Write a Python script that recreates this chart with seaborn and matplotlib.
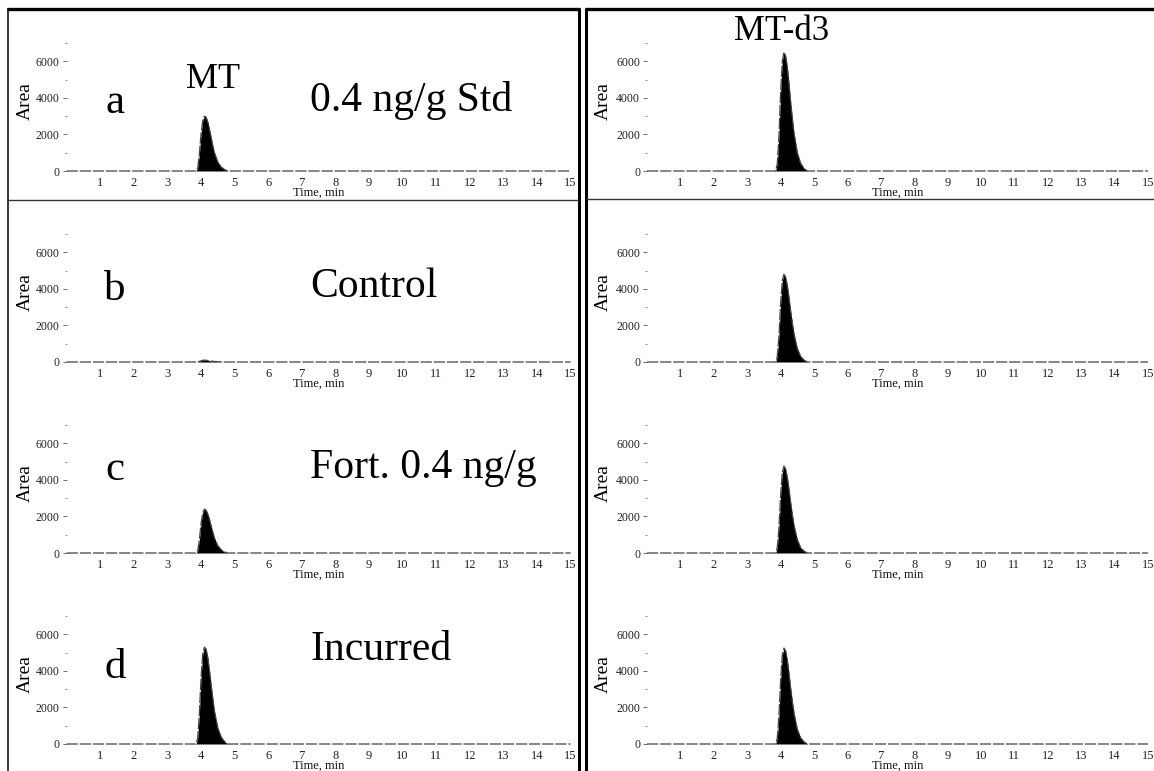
import matplotlib
matplotlib.use("Agg")
import matplotlib.pyplot as plt
import seaborn as sns
import pandas as pd
from matplotlib.lines import Line2D

# Retention time grid (min) for all traces
peak_t = [0.0, 3.85, 3.9, 3.95, 4.0, 4.05, 4.1, 4.15, 4.2, 4.25, 4.3, 4.35,
          4.4, 4.5, 4.6, 4.7, 4.8, 15.0]

# MT traces (left column), area counts
mt_a = [0, 0, 150, 900, 2000, 2750, 3000, 2950, 2700, 2300, 1850, 1400,
        1000, 500, 220, 80, 0, 0]
mt_b = [0, 0, 5, 30, 70, 95, 100, 95, 85, 70, 55, 40, 30, 15, 5, 0, 0, 0]
mt_c = [0, 0, 120, 700, 1600, 2200, 2400, 2350, 2150, 1850, 1500, 1150,
        820, 400, 180, 60, 0, 0]
mt_d = [0, 0, 300, 1600, 3600, 4900, 5300, 5200, 4750, 4050, 3250, 2500,
        1800, 880, 380, 130, 0, 0]

# MT-d3 traces (right column)
d3_a = [0, 0, 400, 1900, 4300, 6000, 6500, 6300, 5700, 4800, 3800, 2900,
        2100, 1000, 420, 150, 0, 0]
d3_b = [0, 0, 300, 1400, 3200, 4450, 4800, 4650, 4200, 3550, 2800, 2150,
        1550, 740, 310, 110, 0, 0]
d3_c = [0, 0, 290, 1380, 3150, 4400, 4750, 4600, 4150, 3500, 2780, 2120,
        1530, 730, 300, 110, 0, 0]
d3_d = [0, 0, 320, 1520, 3480, 4860, 5250, 5100, 4600, 3880, 3070, 2350,
        1700, 800, 340, 120, 0, 0]

panel_letters = ["a", "b", "c", "d"]
sample_labels = ["0.4 ng/g Std", "Control", "Fort. 0.4 ng/g", "Incurred"]
x_ticks = list(range(1, 16))
y_major = [0, 2000, 4000, 6000]
y_minor = [1000, 3000, 5000, 7000]

left_traces = [mt_a, mt_b, mt_c, mt_d]
right_traces = [d3_a, d3_b, d3_c, d3_d]

W, H = 1154, 771
sns.set_theme(style="white")
plt.rcParams["font.family"] = ["Liberation Serif", "DejaVu Serif"]
plt.rcParams["text.color"] = "black"

fig = plt.figure(figsize=(W / 100, H / 100), dpi=100)
fig.patch.set_facecolor("white")


def px(x, y):
    return x / W, 1 - y / H


def draw_panel(left_px, width_px, base_px, values):
    x0, y0 = px(left_px, base_px)
    ax = fig.add_axes([x0, y0, width_px / W, 128 / H])
    df = pd.DataFrame({"time": peak_t, "area": values})
    ax.fill_between(df["time"], 0, df["area"], color="black", lw=0)
    sns.lineplot(data=df, x="time", y="area", ax=ax, color="#444444",
                 lw=0.9, clip_on=False)
    ax.lines[-1].set_dashes((9, 1.5))
    ax.set_xlim(0, 15)
    ax.set_ylim(0, 7000)
    for s in ax.spines.values():
        s.set_visible(False)
    ax.set_facecolor("none")
    ax.set_xticks(x_ticks)
    ax.set_xticklabels([str(t) for t in x_ticks])
    ax.set_yticks(y_major)
    ax.set_yticks(y_minor, minor=True)
    ax.tick_params(axis="x", length=0, pad=4, labelsize=9, colors="#222222")
    ax.tick_params(axis="y", which="major", left=True, length=3, width=0.6,
                   pad=2, labelsize=8.5, colors="#555555", labelcolor="#222222")
    ax.tick_params(axis="y", which="minor", left=True, length=1.5, width=0.6,
                   colors="#777777")
    ax.set_xlabel("Time, min", fontsize=9, labelpad=-1, color="#111111")
    ax.set_ylabel("")
    return ax


bases = [171, 362, 553, 744]
for i in range(4):
    draw_panel(66.6, 504, bases[i], left_traces[i])
    draw_panel(647, 501, bases[i], right_traces[i])
    # "Area" labels
    fig.text(*px(25, bases[i] - 70), "Area", rotation=90, fontsize=14,
             ha="center", va="center")
    fig.text(*px(603, bases[i] - 70), "Area", rotation=90, fontsize=14,
             ha="center", va="center")

letter_y = [103, 290, 470, 668]
label_y = [100, 287, 468, 650]
for i in range(4):
    fig.text(*px(115, letter_y[i]), panel_letters[i], fontsize=31,
             ha="center", va="center")
    fig.text(*px(310, label_y[i]), sample_labels[i], fontsize=30,
             ha="left", va="center")

fig.text(*px(213, 80), "MT", fontsize=26, ha="center", va="center")
fig.text(*px(782, 32), "MT-d3", fontsize=25, ha="center", va="center")


# frame lines around the two columns
def fline(x1, y1, x2, y2, lw, color="black"):
    a, b = px(x1, y1)
    c, d = px(x2, y2)
    fig.add_artist(Line2D([a, c], [b, d], lw=lw, color=color,
                          solid_capstyle="butt"))


fline(7, 9, 580, 9, 2.4)
fline(585, 9, 1154, 9, 2.4)
fline(8, 8, 8, 771, 1.1)
fline(579, 8, 579, 771, 2.2)
fline(586, 8, 586, 771, 2.2)
fline(8, 200, 579, 200, 1.0, "#333333")
fline(586, 199, 1154, 199, 1.0, "#333333")

fig.savefig("out.png", dpi=100, facecolor="white")
